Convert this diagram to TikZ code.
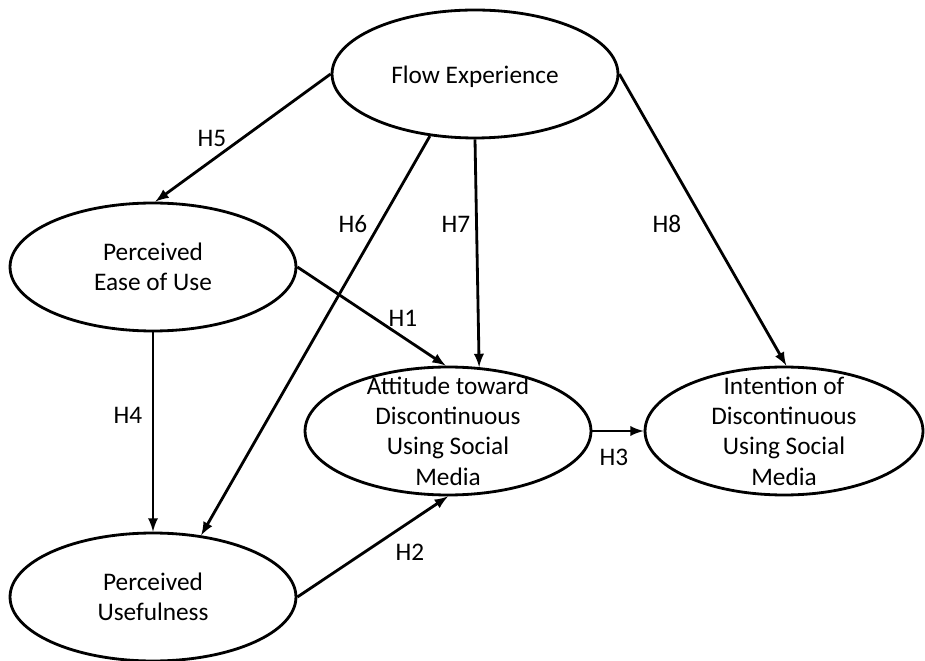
\documentclass[tikz,border=0pt]{standalone}
\usepackage{fontspec}
\setmainfont{Carlito}
\usetikzlibrary{shapes.geometric}

\tikzset{
  construct/.style={draw, ellipse, line width=1.6pt, inner sep=0pt,
    minimum width=5.72cm, minimum height=2.56cm},
  name text/.style={align=center, font=\fontsize{14.4}{17.3}\selectfont},
  path/.style={-latex, line width=1.6pt},
  hyp/.style={font=\fontsize{14.4}{17.3}\selectfont}
}

\begin{document}
\begin{tikzpicture}[x=0.02cm, y=-0.02cm]
        \useasboundingbox (0,0) rectangle (925,661);

        \node[construct, label={[name text, yshift=-0.06cm]center:Flow Experience}] (flow) at (475,74) {};
        \node[construct, label={[name text]center:{Perceived \\ Ease of Use}}] (ease) at (153,267) {};
        \node[construct, label={[name text]center:{Perceived \\ Usefulness}}] (useful) at (153,597) {};
        \node[construct, label={[name text]center:{Attitude toward \\ Discontinuous \\ Using Social \\ Media}}] (att) at (448,431) {};
        \node[construct, minimum width=5.56cm, label={[name text]center:{Intention of \\ Discontinuous \\ Using Social \\ Media}}] (int) at (784,431) {};

        \draw[path] (flow.west) -- (ease.88);
        \draw[path] (flow.234) -- (useful.52);
        \draw[path] (flow.south) -- (att.64);
        \draw[path] (flow.east) -- (int.88);
        \draw[path] (ease.east) -- (att.92);
        \draw[path] (ease.south) -- (useful.north);
        \draw[path] (useful.east) -- (att.south);
        \draw[path] (att.east) -- (int.west);

        \node[hyp] (h5) at (212,138) {H5};
        \node[hyp] (h6) at (353,224) {H6};
        \node[hyp] (h7) at (456,224) {H7};
        \node[hyp] (h8) at (667,224) {H8};
        \node[hyp] (h1) at (403,318) {H1};
        \node[hyp] (h4) at (128,415) {H4};
        \node[hyp] (h2) at (410,552) {H2};
        \node[hyp] (h3) at (614,457) {H3};

    \end{tikzpicture}
\end{document}
